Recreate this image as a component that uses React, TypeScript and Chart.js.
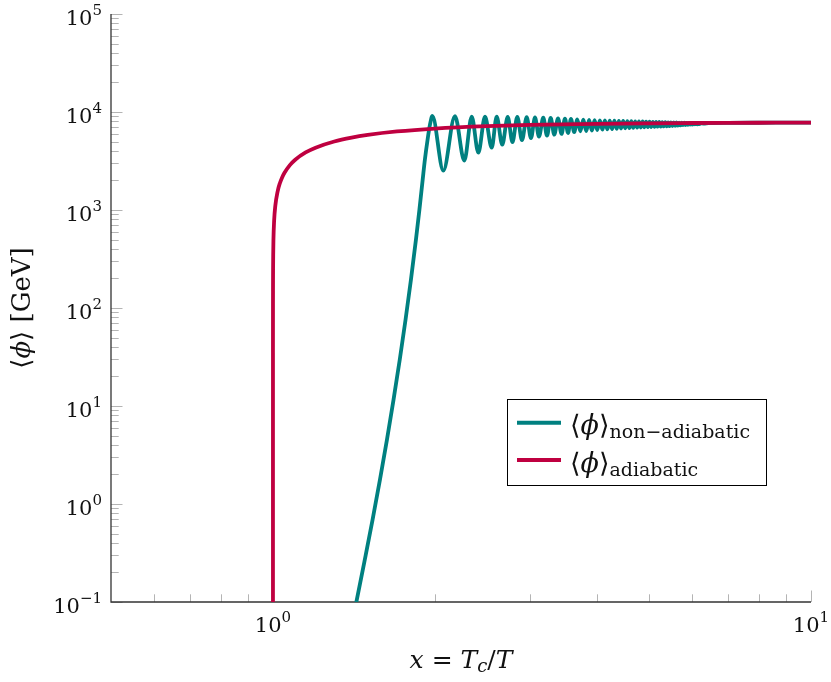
import { useEffect, useRef } from 'react';
import { Chart, registerables } from 'chart.js';

Chart.register(...registerables);

// ---------------- data ----------------
// adiabatic curve
const adiabaticX = [
  1.0, 1.00001, 1.0001, 1.0003, 1.0005, 1.001, 1.002, 1.005, 1.01, 1.02, 1.03, 1.04, 1.05, 1.075, 1.1,
  1.15, 1.2, 1.3, 1.4, 1.5, 1.7, 2.0, 2.5, 3, 4, 5, 6, 7, 8, 10,
];
const adiabaticY = [
  0.05, 35.0, 110.7, 191.7, 247.5, 350, 494.7, 780, 1099, 1543, 1876, 2151, 2387, 2873, 3262,
  3867, 4328, 5003, 5480, 5836, 6332, 6781, 7176, 7382, 7581, 7672, 7720, 7750, 7769, 7791,
];

// non-adiabatic curve: steep rise
const riseX = [
  1.369, 1.429, 1.4815, 1.5317, 1.5808, 1.6289, 1.6754, 1.7204,
  1.7636, 1.8048, 1.8438, 1.8715, 1.8978, 1.9158, 1.938, 1.958,
];
const riseY = [
  0.0326, 0.1, 0.2702, 0.6915, 1.77, 4.53, 11.6, 29.68,
  75.96, 194.5, 497.8, 1007, 2038, 3261, 5216, 7420,
];

// non-adiabatic curve: large oscillations (peak, trough, peak, ...)
const waveX = [
  1.978, 2.073, 2.179, 2.268, 2.341, 2.408, 2.478, 2.55, 2.605, 2.668,
  2.731, 2.787, 2.845, 2.903, 2.962, 3.017, 3.069, 3.122, 3.18, 3.231,
  3.282, 3.333, 3.387, 3.438, 3.489, 3.535, 3.58, 3.63, 3.678, 3.726, 3.774,
];
const waveY = [
  9103, 2518, 9060, 3185, 8990, 3843, 8954, 4321, 8940, 4637,
  8920, 4917, 8891, 5154, 8850, 5403, 8787, 5597, 8746, 5730,
  8685, 5866, 8624, 5977, 8543, 6105, 8483, 6235, 8423, 6354, 8345,
];

// non-adiabatic curve: fast, damped oscillations (trough, peak, trough, ...)
const rippleX = [
  3.822, 3.869, 3.915, 3.961, 4.006, 4.051, 4.095, 4.139, 4.183, 4.226,
  4.269, 4.311, 4.353, 4.394, 4.435, 4.476, 4.516, 4.556, 4.596, 4.635,
  4.674, 4.713, 4.751, 4.789, 4.827, 4.864, 4.901, 4.938, 4.975, 5.011,
  5.047, 5.083, 5.118, 5.153, 5.188, 5.223, 5.257, 5.291, 5.325, 5.359,
  5.393, 5.426, 5.459, 5.492, 5.525, 5.558, 5.59, 5.622, 5.654, 5.686,
  5.718, 5.749, 5.78, 5.811, 5.842, 5.873, 5.904, 5.934, 5.964, 5.994,
  6.024, 6.054, 6.084, 6.113, 6.142, 6.171, 6.2,
];
const rippleY = [
  6399, 8306, 6475, 8267, 6551, 8228, 6598, 8209, 6644, 8170,
  6691, 8151, 6739, 8132, 6786, 8094, 6826, 8075, 6859, 8056,
  6891, 8037, 6923, 8018, 6948, 7999, 6972, 7981, 7005, 7962,
  7030, 7943, 7055, 7925, 7080, 7906, 7105, 7887, 7130, 7869,
  7155, 7850, 7172, 7832, 7197, 7823, 7239, 7814, 7265, 7795,
  7299, 7786, 7333, 7777, 7359, 7759, 7385, 7750, 7416, 7741,
  7446, 7732, 7473, 7723, 7499, 7713, 7525,
];

// non-adiabatic curve: settled tail
const tailX = [6.26, 6.32, 6.45, 7.0, 8.0, 10.0];
const tailY = [7705, 7600, 7700, 7750, 7769, 7791];

// axes
const xMin = 0.5;
const xMax = 10;
const yMin = 0.1;
const yMax = 100000;
const xMajorTicks = [1, 10];
const xMajorExponents = ['0', '1'];
const xMinorTicks = [0.6, 0.7, 0.8, 0.9, 2, 3, 4, 5, 6, 7, 8, 9];
const yMajorTicks = [0.1, 1, 10, 100, 1000, 10000, 100000];
const yMajorExponents = ['−1', '0', '1', '2', '3', '4', '5'];
const yMinorMantissas = [2, 3, 4, 5, 6, 7, 8, 9];
const yMinorTicks = yMajorTicks.slice(0, -1).flatMap((d) => yMinorMantissas.map((m) => d * m));

const seriesLabels = ['non−adiabatic', 'adiabatic'];
const seriesColors = ['#008080', '#BF0040'];

const FONT = "'DejaVu Serif', 'DejaVu Sans', serif";

type Run = { t: string; size: number; italic?: boolean; dy?: number };

function setFont(ctx: CanvasRenderingContext2D, r: Run) {
  ctx.font = `${r.italic ? 'italic ' : ''}${r.size}px ${FONT}`;
}
function runsWidth(ctx: CanvasRenderingContext2D, runs: Run[]) {
  let w = 0;
  for (const r of runs) {
    setFont(ctx, r);
    w += ctx.measureText(r.t).width;
  }
  return w;
}
function drawRuns(ctx: CanvasRenderingContext2D, runs: Run[], x: number, y: number) {
  let cx = x;
  for (const r of runs) {
    setFont(ctx, r);
    ctx.fillText(r.t, cx, y + (r.dy || 0));
    cx += ctx.measureText(r.t).width;
  }
}

const pgfPlugin = {
  id: 'pgfDecor',
  beforeDatasetsDraw(chart: any) {
    const { ctx, chartArea: a } = chart;
    const xs = chart.scales.x;
    const ys = chart.scales.y;
    ctx.save();
    ctx.strokeStyle = '#b4b4b4';
    ctx.lineWidth = 1;
    const seg = (x1: number, y1: number, x2: number, y2: number) => {
      ctx.beginPath();
      ctx.moveTo(x1, y1);
      ctx.lineTo(x2, y2);
      ctx.stroke();
    };
    yMinorTicks.forEach((v) => {
      const p = Math.round(ys.getPixelForValue(v)) + 0.5;
      seg(a.left, p, a.left + 7.7, p);
    });
    yMajorTicks.forEach((v) => {
      const p = Math.round(ys.getPixelForValue(v)) + 0.5;
      seg(a.left, p, a.left + 11.5, p);
    });
    xMinorTicks.forEach((v) => {
      const p = Math.round(xs.getPixelForValue(v)) + 0.5;
      seg(p, a.bottom, p, a.bottom - 7.7);
    });
    xMajorTicks.forEach((v) => {
      const p = Math.round(xs.getPixelForValue(v)) + 0.5;
      seg(p, a.bottom, p, a.bottom - 11.5);
    });
    ctx.strokeStyle = '#333333';
    ctx.lineWidth = 1.3;
    ctx.beginPath();
    ctx.moveTo(a.left, a.top);
    ctx.lineTo(a.left, a.bottom);
    ctx.lineTo(a.right, a.bottom);
    ctx.stroke();
    ctx.restore();
  },
  afterDraw(chart: any) {
    const { ctx, chartArea: a } = chart;
    const xs = chart.scales.x;
    const ys = chart.scales.y;
    ctx.save();
    ctx.fillStyle = '#111111';
    ctx.textAlign = 'left';
    ctx.textBaseline = 'alphabetic';

    // y tick labels
    yMajorTicks.forEach((v, i) => {
      const p = ys.getPixelForValue(v);
      const runs: Run[] = [
        { t: '10', size: 21 },
        { t: yMajorExponents[i], size: 15, dy: -9.5 },
      ];
      const w = runsWidth(ctx, runs);
      drawRuns(ctx, runs, a.left - 9 - w, p + 10.5);
    });
    // x tick labels
    xMajorTicks.forEach((v, i) => {
      const p = xs.getPixelForValue(v);
      const runs: Run[] = [
        { t: '10', size: 21 },
        { t: xMajorExponents[i], size: 15, dy: -9.5 },
      ];
      const w = runsWidth(ctx, runs);
      drawRuns(ctx, runs, p - w / 2, a.bottom + 29.5);
    });

    // x axis title
    const xt: Run[] = [
      { t: 'x', size: 25, italic: true },
      { t: ' = ', size: 25 },
      { t: 'T', size: 25, italic: true },
      { t: 'c', size: 18, italic: true, dy: 4 },
      { t: '/', size: 25 },
      { t: 'T', size: 25, italic: true },
    ];
    const xtw = runsWidth(ctx, xt);
    drawRuns(ctx, xt, (a.left + a.right) / 2 - xtw / 2, a.bottom + 66);

    // y axis title
    const yt: Run[] = [
      { t: '⟨', size: 26 },
      { t: 'ϕ', size: 26, italic: true },
      { t: '⟩', size: 26 },
      { t: ' [GeV]', size: 26 },
    ];
    const ytw = runsWidth(ctx, yt);
    ctx.save();
    ctx.translate(30, (a.top + a.bottom) / 2);
    ctx.rotate(-Math.PI / 2);
    drawRuns(ctx, yt, -ytw / 2, 0);
    ctx.restore();

    // legend
    const bx = a.right - 304;
    const by = a.top + 385;
    ctx.fillStyle = '#ffffff';
    ctx.fillRect(bx, by, 259, 86);
    ctx.strokeStyle = '#000000';
    ctx.lineWidth = 1;
    ctx.strokeRect(bx + 0.5, by + 0.5, 259, 86);
    const rows = [0, 1];
    rows.forEach((k) => {
      const ly = by + 23.7 + k * 37.3;
      ctx.strokeStyle = seriesColors[k];
      ctx.lineWidth = 4;
      ctx.beginPath();
      ctx.moveTo(bx + 10, ly);
      ctx.lineTo(bx + 54, ly);
      ctx.stroke();
      ctx.fillStyle = '#111111';
      drawRuns(
        ctx,
        [
          { t: '⟨', size: 27 },
          { t: 'ϕ', size: 27, italic: true },
          { t: '⟩', size: 27 },
          { t: seriesLabels[k], size: 19, dy: 4 },
        ],
        bx + 63,
        ly + 11.5,
      );
    });
    ctx.restore();
  },
};

function pts(xs: number[], ys: number[]) {
  return xs.map((x, i) => ({ x, y: ys[i] }));
}

export default function App() {
  const ref = useRef<HTMLCanvasElement | null>(null);
  useEffect(() => {
    document.body.style.margin = '0';
    const canvas = ref.current;
    if (!canvas) return;
    const nonAdiabatic = [
      ...pts(riseX, riseY),
      ...pts(waveX, waveY),
      ...pts(rippleX, rippleY),
      ...pts(tailX, tailY),
    ];
    const chart = new Chart(canvas, {
      type: 'line',
      data: {
        datasets: [
          {
            label: seriesLabels[1],
            data: pts(adiabaticX, adiabaticY),
            borderColor: seriesColors[1],
            borderWidth: 3.8,
            pointRadius: 0,
            fill: false,
            cubicInterpolationMode: 'monotone',
            order: 0,
            clip: 0,
          },
          {
            label: seriesLabels[0],
            data: nonAdiabatic,
            borderColor: seriesColors[0],
            borderWidth: 3.8,
            pointRadius: 0,
            fill: false,
            cubicInterpolationMode: 'monotone',
            order: 1,
            clip: 0,
          },
        ],
      } as any,
      options: {
        animation: false,
        responsive: false,
        events: [],
        layout: { padding: { left: 111, right: 20, top: 14, bottom: 80 } },
        scales: {
          x: { type: 'logarithmic', min: xMin, max: xMax, display: false },
          y: { type: 'logarithmic', min: yMin, max: yMax, display: false },
        },
        plugins: { legend: { display: false }, tooltip: { enabled: false } },
      } as any,
      plugins: [pgfPlugin],
    });
    return () => chart.destroy();
  }, []);
  return (
    <div style={{ width: 831, height: 682 }}>
      <canvas ref={ref} width={831} height={682} style={{ display: 'block', width: 831, height: 682 }} />
    </div>
  );
}
